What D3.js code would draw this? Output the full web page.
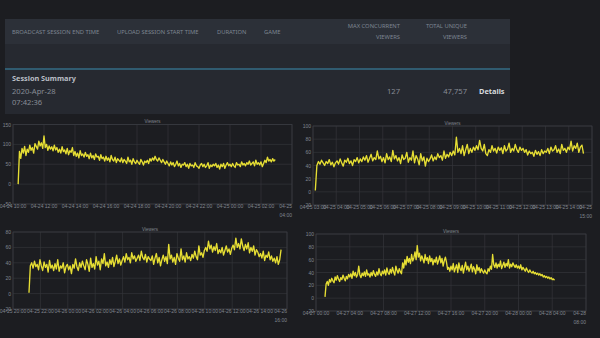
<!DOCTYPE html>
<html><head><meta charset="utf-8">
<script src="https://cdn.jsdelivr.net/npm/d3@7"></script>
<style>
html,body{margin:0;padding:0;background:#1c1d21;width:600px;height:338px;overflow:hidden;}
svg{display:block;}
</style></head><body>
<svg id="c" width="600" height="338"></svg>
<script>
// ---------- table data ----------
const headerCols = ["BROADCAST SESSION END TIME", "UPLOAD SESSION START TIME", "DURATION", "GAME"];
const headerRight = [["MAX CONCURRENT", "VIEWERS"], ["TOTAL UNIQUE", "VIEWERS"]];
const summaryTitle = "Session Summary";
const summaryDate = ["2020-Apr-28", "07:42:36"];
const maxConcurrent = "127";
const totalUnique = "47,757";
const detailsLabel = "Details";
const chartTitle = "Viewers";

// ---------- chart 1 ----------
const c1Start = "2020-04-24 10:20", c1Step = 5;
const c1Values = [0,82,65,90,78,95,72,88,
80,98,85,92,78,102,95,88,108,96,104,90,
121,92,100,85,96,88,94,84,98,86,92,80,
88,78,94,82,86,76,90,74,84,80,92,72,
82,70,78,66,84,72,76,68,80,70,74,64,
78,66,72,62,76,68,70,60,74,64,68,58,
70,60,66,56,72,62,58,68,54,64,60,56,
66,54,62,58,52,68,56,60,50,64,56,52,
60,54,50,62,56,48,58,54,60,52,64,58,
66,60,70,62,58,66,60,54,62,56,50,58,
52,46,56,48,54,44,50,58,46,52,42,50,
48,54,44,50,40,52,46,48,42,54,46,44,
40,48,52,44,50,42,46,54,40,48,44,50,
46,52,42,48,38,50,44,52,40,48,54,46,
50,44,52,46,42,54,48,50,44,56,48,52,
46,54,50,58,48,52,56,46,60,50,54,48,
56,44,52,60,54,68,58,62,56,64,58,62];
const c1XDomain = ["2020-04-24 10:00", "2020-04-25 04:00"], c1XTickHours = 2;
const c1YTicks = [-50, 0, 50, 100, 150];

// ---------- chart 2 ----------
const c2Start = "2020-04-25 03:06", c2Step = 4;
const c2Values = [2,40,46,42,48,44,40,46,43,49,41,45,38,44,
47,42,50,44,39,48,45,51,43,47,40,49,46,52,44,
50,46,53,48,55,45,51,57,47,52,49,62,50,54,46,
52,44,58,49,53,46,63,50,55,47,52,43,56,49,51,
60,45,52,48,62,44,55,50,41,58,47,53,39,51,46,
50,56,47,53,49,58,52,55,48,62,51,57,53,60,55,
62,56,83,60,66,58,70,55,64,72,58,66,60,68,63,
70,64,78,66,62,72,58,55,64,60,70,62,66,59,68,
63,67,58,70,62,65,74,60,66,62,72,64,60,68,63,
66,60,64,56,62,58,60,54,63,57,61,55,64,58,62,
60,66,58,68,62,64,70,60,65,58,72,63,66,60,68,
64,77,62,70,66,74,60,68,71,58];
const c2XDomain = ["2020-04-25 03:00", "2020-04-25 15:00"], c2XTickHours = 1;
const c2YTicks = [-20, 0, 20, 40, 60, 80, 100];

// ---------- chart 3 ----------
const c3Start = "2020-04-25 21:10", c3Step = 6;
const c3Values = [1,36,40,33,42,35,38,31,44,
36,30,41,34,38,28,43,33,37,30,
39,32,44,29,36,33,40,27,35,38,
31,36,26,38,33,45,35,30,40,34,
42,36,31,44,38,29,46,34,39,32,
48,37,42,31,45,39,52,36,41,34,
44,38,47,35,42,50,39,45,37,43,
48,41,52,44,47,40,53,45,49,42,
46,50,43,55,47,44,51,41,48,45,
43,49,38,46,52,40,47,36,44,50,
42,48,39,64,45,50,41,47,38,52,
46,42,58,44,49,41,53,45,48,43,
51,46,55,48,44,62,50,53,47,56,
60,55,68,58,63,54,61,56,65,52,
57,53,60,50,56,62,54,58,51,59,
63,57,72,60,65,58,71,62,56,64,
58,66,53,60,55,62,50,57,54,48,
52,46,55,43,50,47,54,44,49,42,
46,40,48,38,44,57];
const c3XDomain = ["2020-04-25 20:00", "2020-04-26 16:00"], c3XTickHours = 2;
const c3YTicks = [-20, 0, 20, 40, 60, 80];

// ---------- chart 4 ----------
const c4Start = "2020-04-27 01:04", c4Step = 8;
const c4Values = [2,22,26,20,29,25,31,27,24,33,28,35,30,26,32,29,36,31,27,34,30,37,
33,38,31,42,35,40,33,37,50,36,32,39,35,41,34,44,36,38,33,40,35,43,37,34,41,36,46,38,35,42,
38,44,36,47,40,37,45,39,48,41,36,50,43,39,46,41,38,55,47,60,52,65,56,62,54,68,58,63,72,60,
82,64,70,58,66,61,55,68,59,63,54,66,57,62,52,60,56,64,53,59,66,55,62,50,58,64,56,45,48,42,
50,44,54,41,47,52,40,55,46,43,51,39,48,56,44,50,42,47,53,41,49,45,38,52,43,48,40,46,42,39,
44,40,38,46,42,50,45,68,52,48,55,47,53,49,58,46,51,56,48,54,50,60,47,53,49,55,51,48,52,47,
50,46,52,44,48,45,42,47,43,40,44,41,39,42,38,40,37,39,36,38,35,37,33,35,32,34,31,33,30,32,
29,30,28];
const c4XDomain = ["2020-04-27 00:00", "2020-04-28 08:00"], c4XTickHours = 4;
const c4YTicks = [-20, 0, 20, 40, 60, 80, 100];

// ---------- drawing ----------
const svg = d3.select("#c");
const parse = d3.timeParse("%Y-%m-%d %H:%M");
const FONT = "'Liberation Sans', Arial, sans-serif";
const UIFONT = "'Noto Sans', 'Open Sans', sans-serif";

// table panel
svg.append("rect").attr("x", 5).attr("y", 19).attr("width", 505).attr("height", 95).attr("fill", "#262930");
svg.append("rect").attr("x", 5).attr("y", 19).attr("width", 505).attr("height", 25).attr("fill", "#2c3038");
svg.append("rect").attr("x", 5).attr("y", 68.5).attr("width", 505).attr("height", 1).attr("fill", "#3a8db0");

const headerX = [12, 117, 217, 264];
svg.selectAll("text.hdr").data(headerCols).join("text").attr("class", "hdr")
  .attr("x", (d, i) => headerX[i]).attr("y", 32).attr("dominant-baseline", "central")
  .attr("font-family", UIFONT).attr("font-size", 5.8).attr("fill", "#7d8591").text(d => d);
const headerRX = [400, 467];
headerRight.forEach((pair, i) => {
  pair.forEach((t, j) => {
    svg.append("text").attr("x", headerRX[i]).attr("y", 26 + j * 11).attr("dominant-baseline", "central")
      .attr("text-anchor", "end").attr("font-family", UIFONT).attr("font-size", 5.8).attr("fill", "#7d8591").text(t);
  });
});
svg.append("text").attr("x", 12).attr("y", 78).attr("dominant-baseline", "central")
  .attr("font-family", UIFONT).attr("font-size", 7.3).attr("font-weight", "bold").attr("fill", "#b9bec6").text(summaryTitle);
summaryDate.forEach((t, j) => {
  svg.append("text").attr("x", 12).attr("y", 91 + j * 11).attr("dominant-baseline", "central")
    .attr("font-family", UIFONT).attr("font-size", 7.6).attr("fill", "#868c95").text(t);
});
svg.append("text").attr("x", 400).attr("y", 91).attr("dominant-baseline", "central").attr("text-anchor", "end")
  .attr("font-family", UIFONT).attr("font-size", 7.6).attr("fill", "#868c95").text(maxConcurrent);
svg.append("text").attr("x", 467).attr("y", 91).attr("dominant-baseline", "central").attr("text-anchor", "end")
  .attr("font-family", UIFONT).attr("font-size", 7.6).attr("fill", "#868c95").text(totalUnique);
svg.append("text").attr("x", 479).attr("y", 91).attr("dominant-baseline", "central")
  .attr("font-family", UIFONT).attr("font-size", 7.4).attr("font-weight", "bold").attr("fill", "#d6d9dd").text(detailsLabel);

function drawChart(cfg) {
  const g = svg.append("g");
  const x = d3.scaleTime().domain(cfg.xDomain.map(parse)).range([cfg.left, cfg.right]);
  const yd = d3.extent(cfg.yTicks);
  const y = d3.scaleLinear().domain(yd).range([cfg.bottom, cfg.top]);
  const ticks = x.ticks(d3.timeHour.every(cfg.tickHours));
  // grid
  g.selectAll("line.vg").data(ticks).join("line")
    .attr("x1", d => x(d)).attr("x2", d => x(d)).attr("y1", cfg.top).attr("y2", cfg.bottom)
    .attr("stroke", "#33353a").attr("stroke-width", 0.7);
  g.selectAll("line.hg").data(cfg.yTicks).join("line")
    .attr("x1", cfg.left).attr("x2", cfg.right).attr("y1", d => y(d)).attr("y2", d => y(d))
    .attr("stroke", "#33353a").attr("stroke-width", 0.7);
  g.append("rect").attr("x", cfg.left).attr("y", cfg.top).attr("width", cfg.right - cfg.left)
    .attr("height", cfg.bottom - cfg.top).attr("fill", "none").attr("stroke", "#3a3c42").attr("stroke-width", 0.7);
  // y labels
  g.selectAll("text.yl").data(cfg.yTicks).join("text")
    .attr("x", cfg.left - 2).attr("y", d => y(d)).attr("dominant-baseline", "central").attr("text-anchor", "end")
    .attr("font-family", FONT).attr("font-size", 5).attr("fill", "#80858e").text(d => d);
  // x labels
  const fmtD = d3.timeFormat("%m-%d"), fmtT = d3.timeFormat("%H:%M");
  ticks.forEach((t, i) => {
    if (i === ticks.length - 1) {
      g.append("text").attr("x", x(t)).attr("y", cfg.bottom + 2).attr("dominant-baseline", "central")
        .attr("text-anchor", "end").attr("font-family", FONT).attr("font-size", 5).attr("fill", "#80858e").text(fmtD(t));
      g.append("text").attr("x", x(t)).attr("y", cfg.bottom + 11).attr("dominant-baseline", "central")
        .attr("text-anchor", "end").attr("font-family", FONT).attr("font-size", 5).attr("fill", "#80858e").text(fmtT(t));
    } else {
      g.append("text").attr("x", x(t)).attr("y", cfg.bottom + 2).attr("dominant-baseline", "central")
        .attr("text-anchor", "middle").attr("font-family", FONT).attr("font-size", 5).attr("fill", "#80858e")
        .text(fmtD(t) + " " + fmtT(t));
    }
  });
  // title
  g.append("text").attr("x", (cfg.left + cfg.right) / 2).attr("y", cfg.top - 3).attr("dominant-baseline", "central")
    .attr("text-anchor", "middle").attr("font-family", FONT).attr("font-size", 4.5).attr("fill", "#80858e").text(chartTitle);
  // line
  const t0 = parse(cfg.start);
  const pts = cfg.values.map((v, i) => [d3.timeMinute.offset(t0, i * cfg.step), v]);
  g.append("path").datum(pts)
    .attr("d", d3.line().x(d => x(d[0])).y(d => y(d[1])))
    .attr("fill", "none").attr("stroke", "#e6de34").attr("stroke-width", 1.35).attr("stroke-linejoin", "round");
}

drawChart({left: 13, right: 292, top: 124.5, bottom: 204, xDomain: c1XDomain, tickHours: c1XTickHours, yTicks: c1YTicks, start: c1Start, step: c1Step, values: c1Values});
drawChart({left: 313, right: 592, top: 126, bottom: 205, xDomain: c2XDomain, tickHours: c2XTickHours, yTicks: c2YTicks, start: c2Start, step: c2Step, values: c2Values});
drawChart({left: 13, right: 287, top: 232, bottom: 309, xDomain: c3XDomain, tickHours: c3XTickHours, yTicks: c3YTicks, start: c3Start, step: c3Step, values: c3Values});
drawChart({left: 316, right: 586, top: 234, bottom: 311, xDomain: c4XDomain, tickHours: c4XTickHours, yTicks: c4YTicks, start: c4Start, step: c4Step, values: c4Values});
</script>
</body></html>
